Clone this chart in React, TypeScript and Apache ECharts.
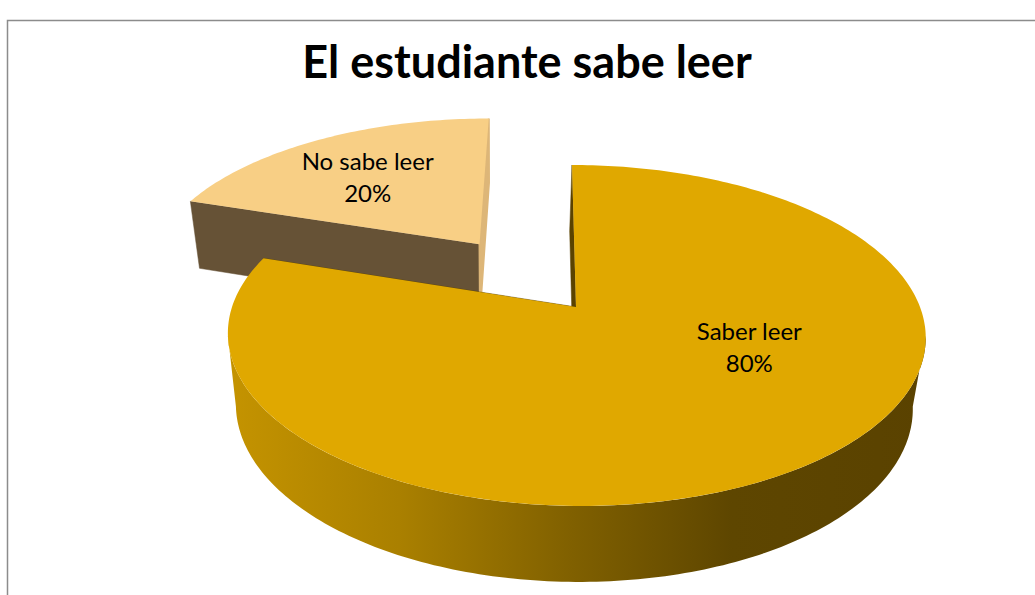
import React, { useEffect, useRef } from "react";
import * as echarts from "echarts";

// ---------- data ----------
const chartTitle = "El estudiante sabe leer";
const categories = ["Saber leer", "No sabe leer"];
const values = [80, 20];
const explodeFractions = [0, 0.5];

// ---------- layout / style ----------
const W = 1035;
const H = 595;
const CX = 576;
const VX = 548;
const CY = 307;
const RX = 344;
const RY = 165.7;
const PERSP = 0.167;
const DEPTH = 76;
const VP_X = 495;
const VP_S = 0.97;

const TOP_COLORS = ["#E0A800", "#F8CF85"];
const START_FACE_COLORS = ["#5A4300", "#665236"];
const END_FACE_COLORS = ["#5A4300", "#DDB678"];
const LABEL_ANCHORS = [
  { angle: 115.7, r: 0.534 },
  { angle: 322, r: 0.635 },
];

const total = values.reduce((a, b) => a + b, 0);
const startAngles: number[] = [];
{
  let acc = 0;
  values.forEach((v) => {
    startAngles.push((acc / total) * 360);
    acc += v;
  });
}

const dir = (deg: number) => {
  const r = (deg * Math.PI) / 180;
  return [Math.sin(r), -Math.cos(r)];
};
const project = (u: number, v: number) => {
  const p = 1 / (1 - PERSP * v);
  return [VX + (RX * u + (CX - VX)) * p, CY + RY * v * p, p];
};
const projectBottom = (u: number, v: number) => {
  const [x, y, p] = project(u, v);
  const d = DEPTH * Math.pow(p * (1 - PERSP), 0.43);
  return [VP_X + (x - VP_X) * VP_S, y + d];
};
const EXT = (Math.acos(-PERSP) * 180) / Math.PI;

const wallGradient = () =>
  new echarts.graphic.LinearGradient(
    232,
    0,
    926,
    0,
    [
      { offset: 0, color: "#C49300" },
      { offset: 0.24, color: "#AA8000" },
      { offset: 0.49, color: "#806000" },
      { offset: 0.72, color: "#5E4600" },
      { offset: 1, color: "#5A4200" },
    ],
    true
  );

function renderItem(params: any, api: any) {
  const i = params.dataIndex;
  const val = api.value(0) as number;
  const s = startAngles[i];
  const e = s + (val / total) * 360;
  const mid = (s + e) / 2;
  const [mu, mv] = dir(mid);
  const ex = explodeFractions[i];
  const ou = mu * ex;
  const ov = mv * ex;
  const pt = (deg: number, r: number, bottom = false) => {
    const [du, dv] = dir(deg);
    const u = ou + du * r;
    const v = ov + dv * r;
    return bottom ? projectBottom(u, v) : project(u, v).slice(0, 2);
  };
  const arc = (a0: number, a1: number, r: number, bottom: boolean) => {
    const n = Math.max(2, Math.ceil(Math.abs(a1 - a0)));
    const pts: number[][] = [];
    for (let k = 0; k <= n; k++) pts.push(pt(a0 + ((a1 - a0) * k) / n, r, bottom));
    return pts;
  };
  const zBase = 50 + Math.round(mv * 20 + ov * 20);
  const children: any[] = [];

  // front wall
  const a0 = Math.max(s, EXT);
  const a1 = Math.min(e, 360 - EXT);
  if (a1 > a0) {
    children.push({
      type: "polygon",
      z2: zBase + 1,
      shape: { points: arc(a0, a1, 1, false).concat(arc(a1, a0, 1, true)) },
      style: { fill: wallGradient() },
      silent: true,
    });
  }
  // radial faces
  const face = (deg: number, color: string, extra: number) => ({
    type: "polygon",
    z2: zBase + 2,
    shape: { points: [pt(deg, 0), pt(deg, 1), pt(deg, 1, true), pt(deg, 0, true)] },
    style: { fill: color, stroke: color, lineWidth: extra },
    silent: true,
  });
  children.push(face(s, START_FACE_COLORS[i], 0.5));
  children.push(face(e, END_FACE_COLORS[i], i === 1 ? 2 : 0.5));
  // top
  children.push({
    type: "polygon",
    z2: zBase + 3,
    shape: { points: [pt(s, 0)].concat(arc(s, e, 1, false)) },
    style: { fill: TOP_COLORS[i] },
    silent: true,
  });
  // label
  const anc = LABEL_ANCHORS[i];
  const [lx, ly] = pt(anc.angle, anc.r);
  children.push({
    type: "text",
    z2: 200,
    silent: true,
    style: {
      text: categories[i] + "\n" + Math.round((val / total) * 100) + "%",
      x: lx,
      y: ly,
      fill: "#000000",
      fontFamily: "Lato",
      fontSize: 24,
      lineHeight: 32,
      align: "center",
      verticalAlign: "middle",
    },
  });
  return { type: "group", children };
}

export default function App() {
  const ref = useRef<HTMLDivElement>(null);
  useEffect(() => {
    if (!ref.current) return;
    const chart = echarts.init(ref.current, undefined, { renderer: "svg" });
    chart.setOption({
      animation: false,
      backgroundColor: "#FFFFFF",
      graphic: [
        {
          type: "rect",
          silent: true,
          shape: { x: 7.5, y: 20.5, width: 1100, height: 700 },
          style: { fill: "none", stroke: "#8C8C8C", lineWidth: 1.5 },
        },
        {
          type: "text",
          silent: true,
          style: {
            text: chartTitle,
            x: 527,
            y: 61,
            fill: "#000000",
            fontFamily: "Lato",
            fontWeight: "bold",
            fontSize: 45,
            align: "center",
            verticalAlign: "middle",
          },
        },
      ],
      series: [
        {
          type: "custom",
          coordinateSystem: "none",
          data: values.map((v, i) => ({ value: v, name: categories[i] })),
          renderItem,
        },
      ],
    });
    return () => chart.dispose();
  }, []);
  return (
    <div
      ref={ref}
      style={{ position: "absolute", left: 0, top: 0, width: W, height: H }}
    />
  );
}
